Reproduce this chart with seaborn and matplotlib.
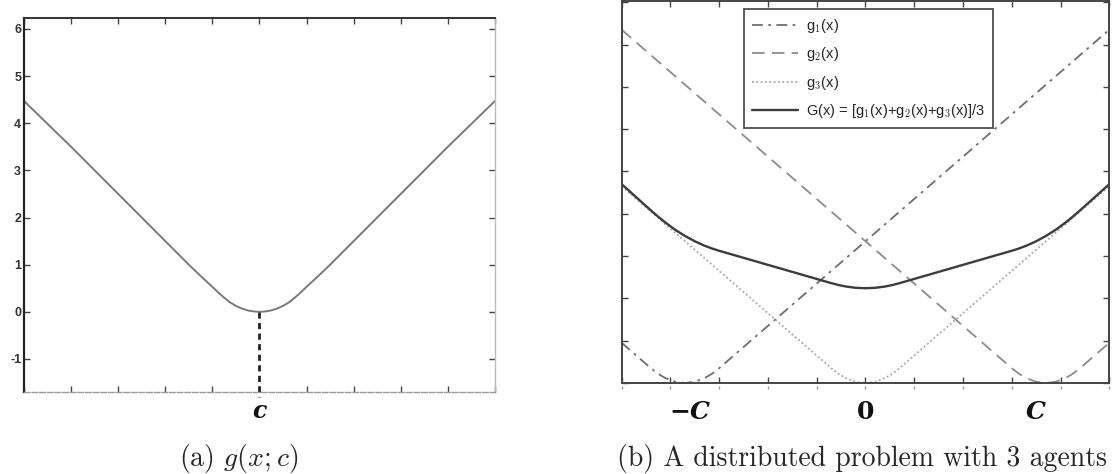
import numpy as np
import pandas as pd
import matplotlib
matplotlib.use("Agg")
import matplotlib.pyplot as plt
import matplotlib.transforms as mtransforms
import seaborn as sns

# ---------------- data ----------------
# panel (a): g(x;c), c at x = 0
a_x = [-5, -4, -3, -2, -1.5, -1.25, -1, -0.875, -0.75, -0.625, -0.5, -0.375, -0.25, -0.125, 0,
       0.125, 0.25, 0.375, 0.5, 0.625, 0.75, 0.875, 1, 1.25, 1.5, 2, 3, 4, 5]
a_y = [4.47, 3.5, 2.5, 1.5, 1.0, 0.76, 0.53, 0.41, 0.3, 0.2, 0.125, 0.07, 0.03, 0.008, 0,
       0.008, 0.03, 0.07, 0.125, 0.2, 0.3, 0.41, 0.53, 0.76, 1.0, 1.5, 2.5, 3.5, 4.47]
a_yticks = [-1, 0, 1, 2, 3, 4, 5, 6]
a_label = "c"

# panel (b): three agents and their average
g1_x = [-5, -4.4, -4.25, -4.1, -3.9, -3.7, -3.5, -3.3, -3.15, -3.0, 5]
g1_y = [0.95, 0.35, 0.216, 0.114, 0.029, 0, 0.029, 0.114, 0.216, 0.35, 8.35]
g2_x = [-5, 3.0, 3.15, 3.3, 3.5, 3.7, 3.9, 4.1, 4.25, 4.4, 5]
g2_y = [8.35, 0.35, 0.216, 0.114, 0.029, 0, 0.029, 0.114, 0.216, 0.35, 0.95]
g3_x = [-5, -0.7, -0.55, -0.4, -0.2, 0, 0.2, 0.4, 0.55, 0.7, 5]
g3_y = [4.65, 0.35, 0.216, 0.114, 0.029, 0, 0.029, 0.114, 0.216, 0.35, 4.65]
G_x = [-5, -4.4, -4.25, -4.1, -3.9, -3.7, -3.5, -3.3, -3.15, -3.0, -0.7, -0.55, -0.4, -0.2, 0,
       0.2, 0.4, 0.55, 0.7, 3.0, 3.15, 3.3, 3.5, 3.7, 3.9, 4.1, 4.25, 4.4, 5]
G_y = [4.7, 4.08, 3.93, 3.79, 3.62, 3.475, 3.35, 3.245, 3.18, 3.125, 2.36, 2.315, 2.28, 2.25, 2.24,
       2.25, 2.28, 2.315, 2.36, 3.125, 3.18, 3.245, 3.35, 3.475, 3.62, 3.79, 3.93, 4.08, 4.7]
series_names = ["g$_1$(x)", "g$_2$(x)", "g$_3$(x)", "G(x) = [g$_1$(x)+g$_2$(x)+g$_3$(x)]/3"]
b_label_pos = [-3.6, 0, 3.5]
b_label_txt = ["\u2212C", "0", "C"]

captions = ["(a) $g(x;c)$", "(b) A distributed problem with 3 agents"]

# ---------------- style ----------------
sns.set_theme(style="ticks")
plt.rcParams["font.family"] = ["Liberation Sans", "DejaVu Sans"]
plt.rcParams["mathtext.fontset"] = "cm"
plt.rcParams["axes.unicode_minus"] = False

fig = plt.figure(figsize=(11.16, 4.74), dpi=100)
axA = fig.add_axes([0.0215, 0.173, 0.422, 0.789])
axB = fig.add_axes([0.557, 0.192, 0.437, 0.806])

# ---------------- panel (a) ----------------
sns.lineplot(x=a_x, y=a_y, ax=axA, color="#7a7a7a", linewidth=1.4, sort=True)
axA.plot([0, 0], [0, -1.8], color="#222222", linestyle=(0, (2.2, 1.6)), linewidth=2.0, clip_on=False)
axA.set_xlim(-5, 5)
axA.set_ylim(-1.7, 6.23)
axA.set_xticks(np.arange(-5, 6, 1))
axA.set_xticklabels([])
axA.set_yticks(a_yticks)
axA.set_yticklabels([str(v) for v in a_yticks], fontsize=9, color="#333333", fontweight="bold")
axA.tick_params(direction="in", length=4, width=1.0, color="#444444", top=True, right=True, pad=2)
axA.text(0, -0.05, a_label, transform=mtransforms.blended_transform_factory(axA.transData, axA.transAxes),
         ha="center", va="center", fontsize=17, fontweight="bold", fontstyle="italic",
         family=["DejaVu Serif"], color="#111111")
for side, sp in axA.spines.items():
    sp.set_visible(True)
axA.spines["left"].set_color("#222222"); axA.spines["left"].set_linewidth(1.6)
axA.spines["top"].set_color("#333333"); axA.spines["top"].set_linewidth(1.4)
axA.spines["right"].set_color("#bbbbbb"); axA.spines["right"].set_linewidth(1.0)
axA.spines["right"].set_linestyle((0, (2, 1)))
axA.spines["bottom"].set_color("#999999"); axA.spines["bottom"].set_linewidth(1.0)
axA.spines["bottom"].set_linestyle((0, (4, 1.5)))

# ---------------- panel (b) ----------------
sns.lineplot(x=g1_x, y=g1_y, ax=axB, color="#6e6e6e", linewidth=1.3, linestyle=(0, (6, 3, 1.5, 3)),
             label=series_names[0])
sns.lineplot(x=g2_x, y=g2_y, ax=axB, color="#8c8c8c", linewidth=1.3, linestyle=(0, (7, 4)),
             label=series_names[1])
sns.lineplot(x=g3_x, y=g3_y, ax=axB, color="#a8a8a8", linewidth=1.3, linestyle=(0, (1, 1.4)),
             label=series_names[2])
sns.lineplot(x=G_x, y=G_y, ax=axB, color="#3c3c3c", linewidth=1.7, linestyle="-",
             label=series_names[3])
axB.set_xlim(-5, 5)
axB.set_ylim(0, 9.03)
axB.set_xticks(np.arange(-5, 6, 1))
axB.set_yticks(np.arange(0, 10, 1))
axB.set_xticklabels([])
axB.set_yticklabels([])
axB.tick_params(direction="in", length=4, width=1.0, color="#444444", top=True, right=True)
for sp in axB.spines.values():
    sp.set_color("#444444"); sp.set_linewidth(1.4)
trB = mtransforms.blended_transform_factory(axB.transData, axB.transAxes)
for pos, txt in zip(b_label_pos, b_label_txt):
    style = "normal" if txt == "0" else "italic"
    axB.text(pos, -0.045, txt, transform=trB, ha="center", va="top", fontsize=18,
             fontweight="bold", fontstyle=style, family=["DejaVu Serif"], color="#111111")
# faint secondary tick row below the axis
sec = axB.secondary_xaxis(-0.016)
sec.set_xticks(np.arange(-5, 6, 1))
sec.set_xticklabels([])
sec.tick_params(direction="in", length=2, width=1, color="#999999")
sec.spines["bottom"].set_visible(False)

leg = axB.legend(loc="upper left", bbox_to_anchor=(0.25, 0.98), borderaxespad=0,
                 fontsize=10.5, handlelength=3.2, labelspacing=0.72, frameon=True,
                 fancybox=False, edgecolor="#222222", borderpad=0.55, handletextpad=0.5)
leg.get_frame().set_linewidth(1.3)

# ---------------- captions ----------------
fig.text(0.214, 0.032, captions[0], ha="center", va="center", fontsize=20,
         family=["cmr10", "DejaVu Serif"])
fig.text(0.772, 0.032, captions[1], ha="center", va="center", fontsize=20,
         family=["cmr10", "DejaVu Serif"])

fig.savefig("out.png", dpi=100)
